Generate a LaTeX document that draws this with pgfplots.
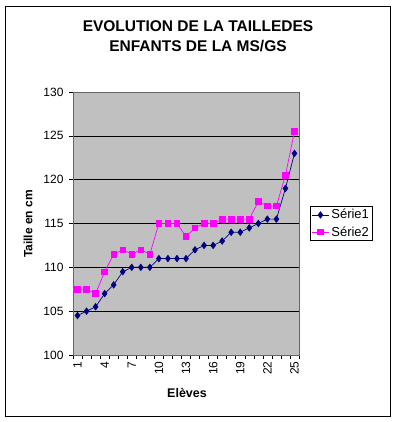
\documentclass[border=0pt]{standalone}
\usepackage{pgfplots}
\pgfplotsset{compat=1.18}
\usepackage{fontspec}
\setmainfont{Liberation Sans}
\definecolor{navyS}{RGB}{0,0,128}
\definecolor{magS}{RGB}{255,0,255}
\definecolor{plotgray}{RGB}{192,192,192}
\begin{document}
\begin{tikzpicture}[x=1pt,y=1pt]
\path (0,0) rectangle (396,422);
\draw[black,line width=0.8pt] (5,6) rectangle (390,416);
\node[font=\fontsize{15.5}{20}\selectfont\bfseries,align=center] at (198,386) {EVOLUTION DE LA TAILLEDES\\ENFANTS DE LA MS/GS};
\node[font=\fontsize{12}{14}\selectfont\bfseries,rotate=90] at (28,198) {Taille en cm};
\node[font=\fontsize{12.5}{14}\selectfont\bfseries] at (187,29) {Elèves};
\begin{axis}[
  at={(73pt,67pt)}, anchor=south west,
  scale only axis, width=226pt, height=263pt,
  xmin=0.5, xmax=25.5, ymin=100, ymax=130,
  axis background/.style={fill=plotgray},
  axis line style={draw=gray!80!black, line width=0.6pt},
  ytick={100,105,...,130},
  ymajorgrids, grid style={black, line width=0.6pt},
  tick pos=left, tick align=outside,
  major tick length=4pt,
  tick style={black, line width=0.5pt},
  xtick={0.5,1.5,...,25.5}, xticklabels={},
  extra x ticks={1,4,...,25},
  extra x tick style={major tick length=0pt, xmajorgrids=false,
     xticklabel style={rotate=90, anchor=east, xshift=-3pt}},
  extra x tick labels={1,4,7,10,13,16,19,22,25},
  ticklabel style={font=\fontsize{12}{14}\selectfont},
  /pgf/number format/assume math mode=true,
  yticklabel style={xshift=-2pt},
  legend style={at={(1.05,0.5)}, anchor=west, draw=black, line width=0.6pt,
     font=\fontsize{13}{15}\selectfont, inner sep=1pt, row sep=2pt},
  legend cell align=left,
]
\addplot[navyS, line width=0.7pt, mark=diamond*, mark size=3.2pt, mark options={solid, fill=navyS}] coordinates {
(1,104.5)(2,105)(3,105.5)(4,107)(5,108)(6,109.5)(7,110)(8,110)(9,110)(10,111)
(11,111)(12,111)(13,111)(14,112)(15,112.5)(16,112.5)(17,113)(18,114)(19,114)(20,114.5)
(21,115)(22,115.5)(23,115.5)(24,119)(25,123)};
\addlegendentry{Série1}
\addplot[magS, line width=0.7pt, mark=square*, mark size=2.8pt, mark options={solid, fill=magS}] coordinates {
(1,107.5)(2,107.5)(3,107)(4,109.5)(5,111.5)(6,112)(7,111.5)(8,112)(9,111.5)(10,115)
(11,115)(12,115)(13,113.5)(14,114.5)(15,115)(16,115)(17,115.5)(18,115.5)(19,115.5)(20,115.5)
(21,117.5)(22,117)(23,117)(24,120.5)(25,125.5)};
\addlegendentry{Série2}
\end{axis}
\end{tikzpicture}
\end{document}
